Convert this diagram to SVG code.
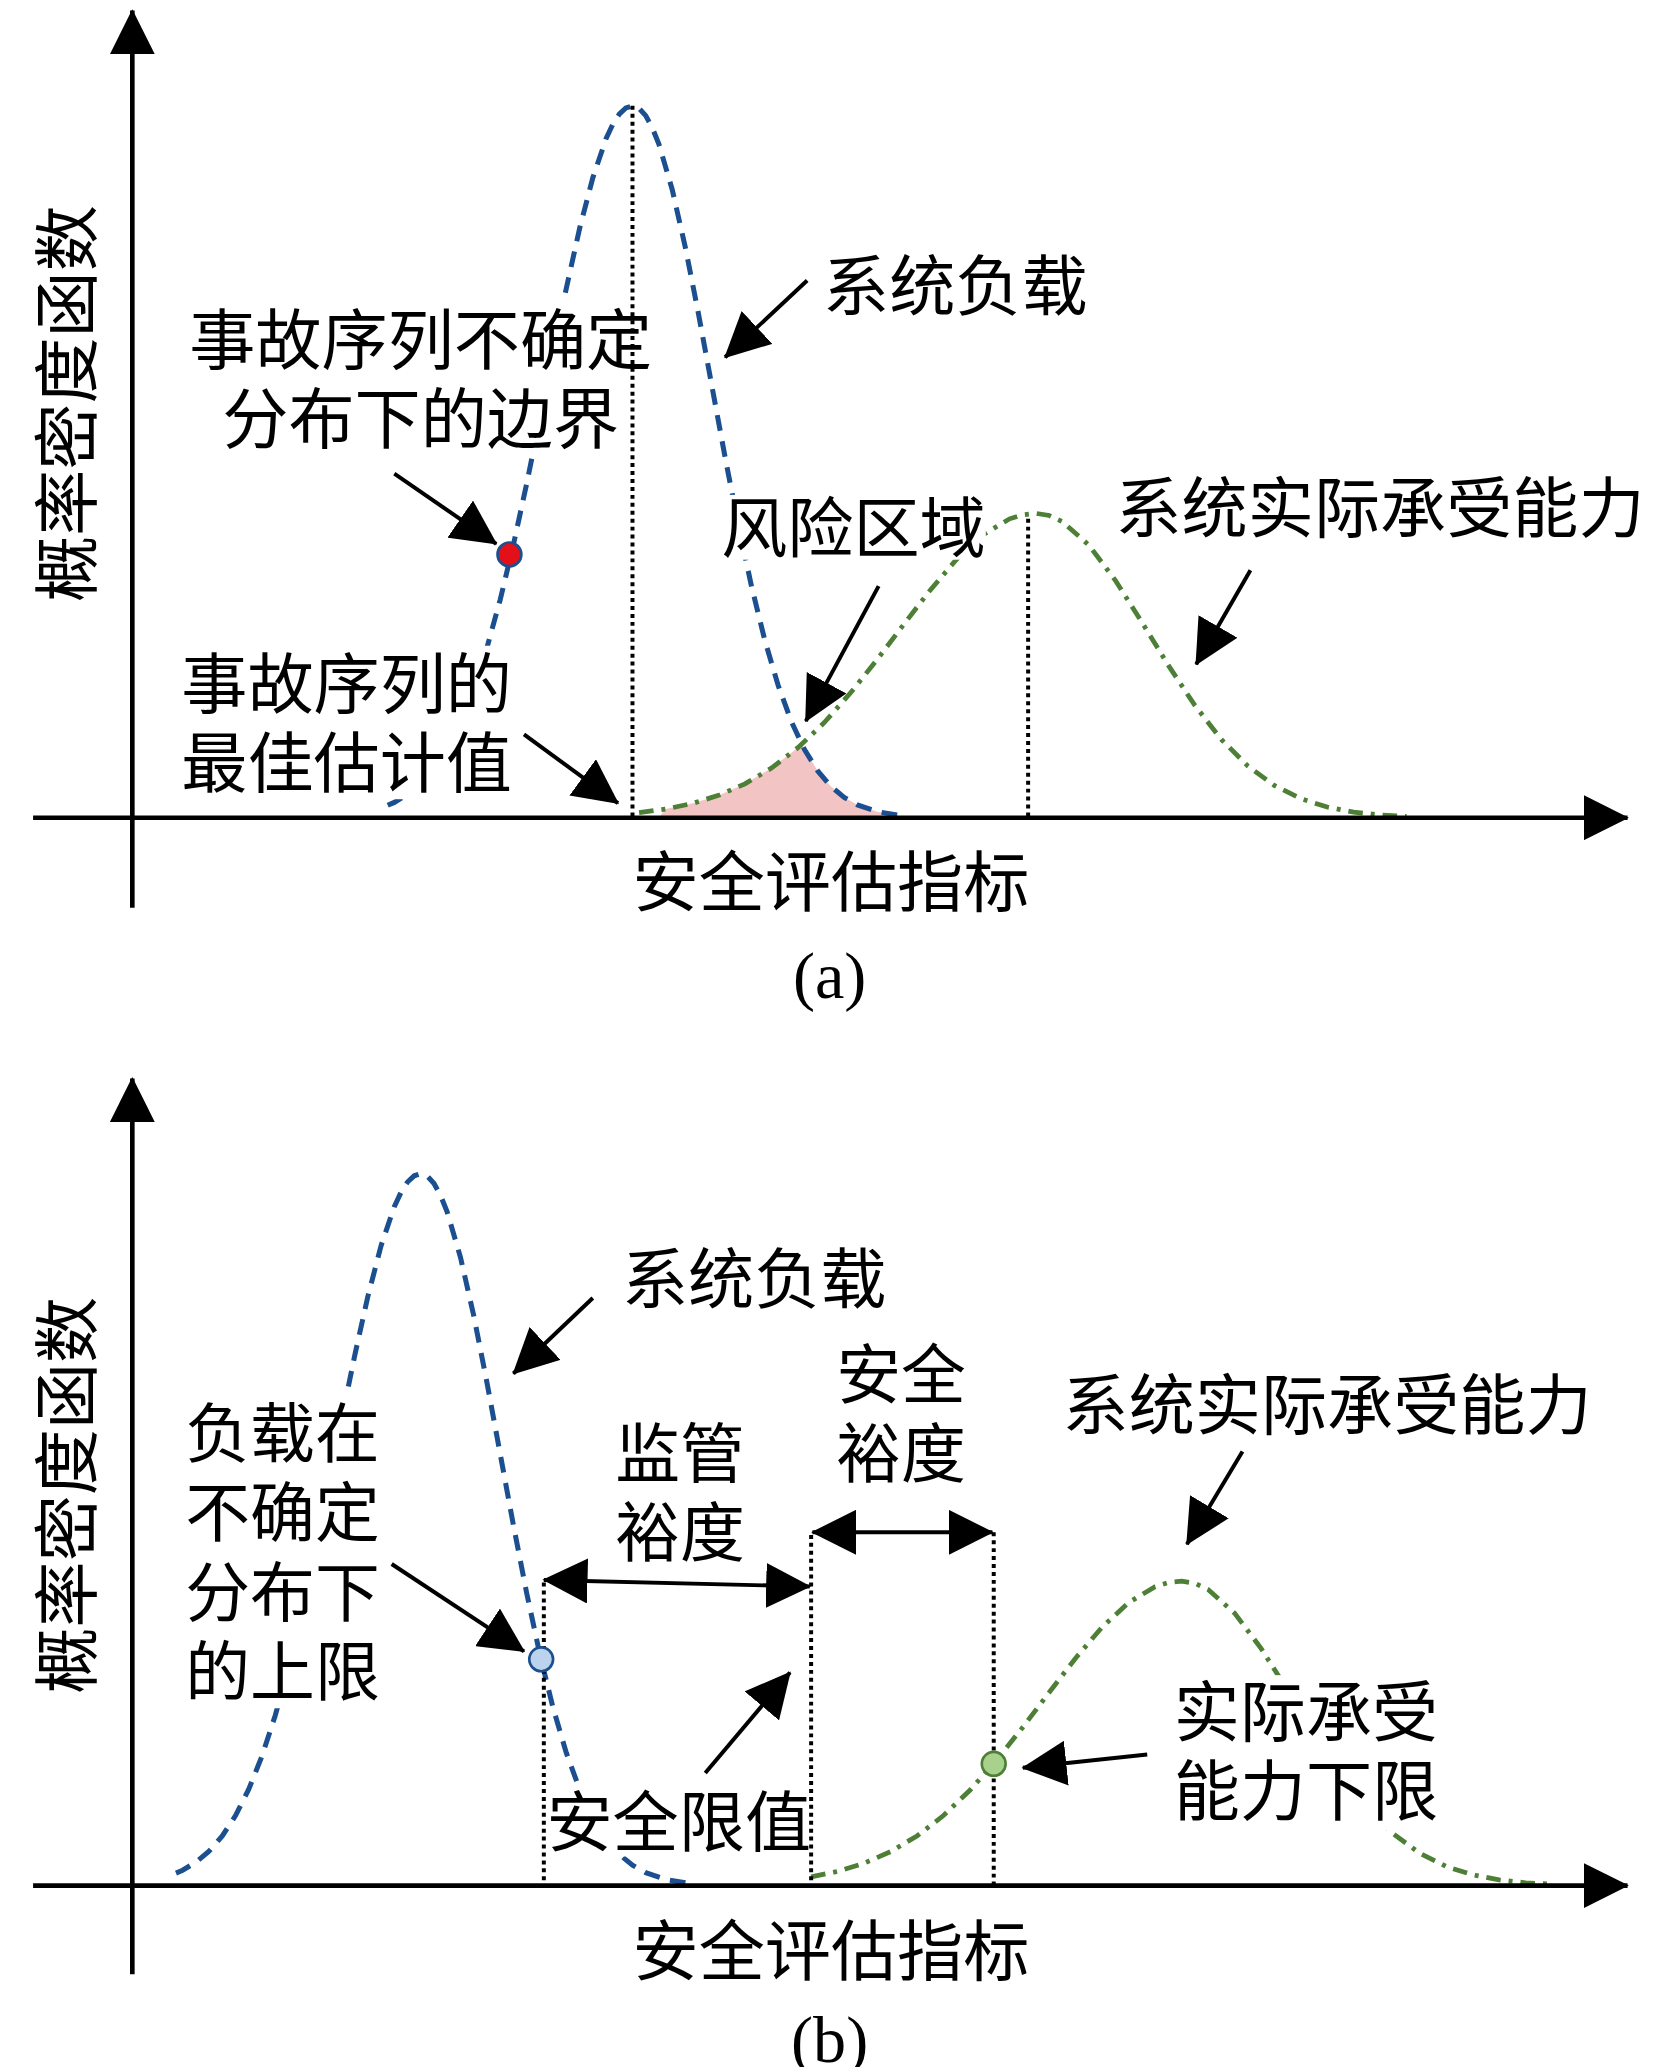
<svg xmlns="http://www.w3.org/2000/svg" width="1654" height="2067" viewBox="0 0 1654 2067">
<style>
.t{font-family:"Noto Sans CJK SC","Noto Sans CJK JP",sans-serif;font-size:50px;fill:#000;dominant-baseline:central}
.lat{font-family:"Liberation Serif",serif;font-size:50px;fill:#000;dominant-baseline:central}
.bg{fill:#fff}
.blue{fill:none;stroke:#1b4f8f;stroke-width:3.8;stroke-dasharray:12 8}
.green{fill:none;stroke:#4d7f36;stroke-width:3.6;stroke-dasharray:11 6 3 6}
.dot{fill:none;stroke:#000;stroke-width:3;stroke-dasharray:3 3}
.axis{fill:none;stroke:#000;stroke-width:3.5;marker-end:url(#ah)}
.arr{fill:none;stroke:#000;stroke-width:3;marker-end:url(#ah)}
.dbl{fill:none;stroke:#000;stroke-width:3;marker-end:url(#ah);marker-start:url(#ah)}
</style>
<defs>
<marker id="ah" viewBox="0 0 34 34" refX="33" refY="17" markerWidth="34" markerHeight="34" orient="auto-start-reverse" markerUnits="userSpaceOnUse">
<path d="M0,0 L34,17 L0,34 Z" fill="#000"/>
</marker>
</defs>
<rect width="1654" height="2067" fill="#fff"/>
<g transform="scale(1.3232)">
<g id="curves">
<path id="risk" d="M498,618 L503,611.4 L523,607.3 L543,601.1 L563,592.4 L583,580.5 L603,565.1 L606,562.2 L608,566.5 L618,582.6 L628,594.4 L638,602.6 L648,608.3 L663,613.4 L678,615.9 L680,618 Z" fill="#f2c4c4"/>
<path class="blue" d="M293,608.6 L298,606.4 L308,600.4 L318,592.0 L328,580.5 L338,565.1 L348,545.2 L358,520.1 L368,489.5 L378,453.3 L388,411.7 L398,365.7 L408,316.8 L418,266.6 L428,217.8 L438,172.8 L448,134.4 L458,104.9 L463,94.2 L468,86.3 L473,81.6 L478,80 L483,81.9 L488,87.4 L493,96.6 L498,109.1 L508,143.2 L518,187.2 L528,237.8 L538,291.7 L548,345.6 L558,396.8 L568,443.3 L578,483.8 L588,517.7 L598,545.2 L608,566.5 L618,582.6 L628,594.4 L638,602.6 L648,608.3 L663,613.4 L678,615.9"/>
<path class="green" d="M483,614.1 L503,611.4 L523,607.3 L543,601.1 L563,592.4 L583,580.5 L603,565.1 L623,546.0 L643,523.4 L663,498.3 L683,471.9 L703,446.0 L723,422.6 L743,404.1 L763,392.1 L773,389.0 L783,388 L793,389.6 L803,394.3 L823,412.1 L843,438.7 L863,470.3 L883,502.9 L903,533.1 L923,558.8 L943,578.9 L963,593.6 L983,603.6 L1003,609.9 L1023,613.7 L1043,615.9 L1063,617"/>
<path class="blue" d="M133,1415.6 L138,1413.4 L148,1407.4 L158,1399.0 L168,1387.5 L178,1372.1 L188,1352.2 L198,1327.1 L208,1296.5 L218,1260.3 L228,1218.7 L238,1172.7 L248,1123.8 L258,1073.6 L268,1024.8 L278,979.8 L288,941.4 L298,911.9 L303,901.2 L308,893.3 L313,888.6 L318,887 L323,888.9 L328,894.4 L333,903.6 L338,916.1 L348,950.2 L358,994.2 L368,1044.8 L378,1098.7 L388,1152.6 L398,1203.8 L408,1250.3 L418,1290.8 L428,1324.7 L438,1352.2 L448,1373.5 L458,1389.6 L468,1401.4 L478,1409.6 L488,1415.3 L503,1420.4 L518,1422.9"/>
<path class="green" d="M613,1418.4 L633,1414.3 L653,1408.1 L673,1399.4 L693,1387.5 L713,1372.1 L733,1353.0 L753,1330.4 L773,1305.3 L793,1278.9 L813,1253.0 L833,1229.6 L853,1211.1 L873,1199.1 L883,1196.0 L893,1195 L903,1196.6 L913,1201.3 L933,1219.1 L953,1245.7 L973,1277.3 L993,1309.9 L1013,1340.1 L1033,1365.8 L1053,1385.9 L1073,1400.6 L1093,1410.6 L1113,1416.9 L1133,1420.7 L1153,1422.9 L1173,1424"/>
</g>
<g id="label-a-ylabel"><text class="t" transform="translate(47,305) rotate(-90)" text-anchor="middle">概率密度函数</text></g>
<g id="label-a-boundary"><rect class="bg" x="140" y="228" width="345" height="115"/><text class="t" x="143" y="253">事故序列不确定</text><text class="t" x="168" y="313">分布下的边界</text></g>
<g id="label-a-load"><text class="t" x="622" y="212">系统负载</text></g>
<g id="label-a-risk"><rect class="bg" x="543" y="374" width="202" height="49"/><text class="t" x="545" y="395">风险区域</text></g>
<g id="label-a-capacity"><text class="t" x="843" y="380">系统实际承受能力</text></g>
<g id="label-a-best"><rect class="bg" x="135" y="488" width="253" height="116"/><text class="t" x="137" y="513">事故序列的</text><text class="t" x="137" y="573">最佳估计值</text></g>
<g id="label-a-xlabel"><text class="t" x="478" y="663">安全评估指标</text></g>
<g id="label-a-caption"><text class="lat" x="627" y="737" text-anchor="middle">(a)</text></g>
<g id="label-b-ylabel"><text class="t" transform="translate(47,1130) rotate(-90)" text-anchor="middle">概率密度函数</text></g>
<g id="label-b-load"><text class="t" x="470" y="963">系统负载</text></g>
<g id="label-b-upper"><rect class="bg" x="137" y="1055" width="153" height="236"/><text class="t" x="140" y="1080" style="font-size:49px">负载在</text><text class="t" x="140" y="1140" style="font-size:49px">不确定</text><text class="t" x="140" y="1200" style="font-size:49px">分布下</text><text class="t" x="140" y="1260" style="font-size:49px">的上限</text></g>
<g id="label-b-supervision"><text class="t" x="465" y="1095" style="font-size:49px">监管</text><text class="t" x="465" y="1155" style="font-size:49px">裕度</text></g>
<g id="label-b-safety"><text class="t" x="632" y="1035" style="font-size:49px">安全</text><text class="t" x="632" y="1095" style="font-size:49px">裕度</text></g>
<g id="label-b-capacity"><text class="t" x="803" y="1058">系统实际承受能力</text></g>
<g id="label-b-lower"><rect class="bg" x="884" y="1266" width="204" height="117"/><text class="t" x="887" y="1290">实际承受</text><text class="t" x="887" y="1350">能力下限</text></g>
<g id="label-b-limit"><rect class="bg" x="411" y="1349" width="201" height="54"/><text class="t" x="413" y="1373">安全限值</text></g>
<g id="label-b-xlabel"><text class="t" x="478" y="1471">安全评估指标</text></g>
<g id="label-b-caption"><text class="lat" x="627" y="1541" text-anchor="middle">(b)</text></g>
<g id="guides">
<line class="dot" x1="478" y1="80" x2="478" y2="618"/>
<line class="dot" x1="777" y1="392" x2="777" y2="618"/>
<line class="dot" x1="411" y1="1196" x2="411" y2="1425"/>
<line class="dot" x1="613" y1="1160" x2="613" y2="1425"/>
<line class="dot" x1="751" y1="1158" x2="751" y2="1425"/>
</g>
<g id="axes">
<line class="axis" x1="100" y1="686" x2="100" y2="8"/>
<line class="axis" x1="25" y1="618" x2="1230" y2="618"/>
<line class="axis" x1="100" y1="1492" x2="100" y2="815"/>
<line class="axis" x1="25" y1="1425" x2="1230" y2="1425"/>
</g>
<g id="connectors">
<line class="arr" x1="298" y1="358" x2="375" y2="411"/>
<line class="arr" x1="610" y1="212" x2="548" y2="270"/>
<line class="arr" x1="664" y1="443" x2="609" y2="545"/>
<line class="arr" x1="945" y1="431" x2="904" y2="502"/>
<line class="arr" x1="396" y1="555" x2="467" y2="607"/>
<line class="arr" x1="448" y1="981" x2="388" y2="1038"/>
<line class="arr" x1="296" y1="1182" x2="396" y2="1248"/>
<line class="arr" x1="533" y1="1340" x2="597" y2="1264"/>
<line class="arr" x1="939" y1="1097" x2="897" y2="1167"/>
<line class="arr" x1="867" y1="1326" x2="773" y2="1336"/>
<line class="dbl" x1="411" y1="1194" x2="612" y2="1199"/>
<line class="dbl" x1="614" y1="1158" x2="750" y2="1158"/>
</g>
<g id="points">
<circle cx="385" cy="419" r="9" fill="#e3101a" stroke="#1b4f8f" stroke-width="2"/>
<circle cx="409" cy="1254" r="9" fill="#bcd3ee" stroke="#1b4f8f" stroke-width="2"/>
<circle cx="751" cy="1333" r="9" fill="#a9d18e" stroke="#4d7f36" stroke-width="2"/>
</g>
</g>
</svg>
